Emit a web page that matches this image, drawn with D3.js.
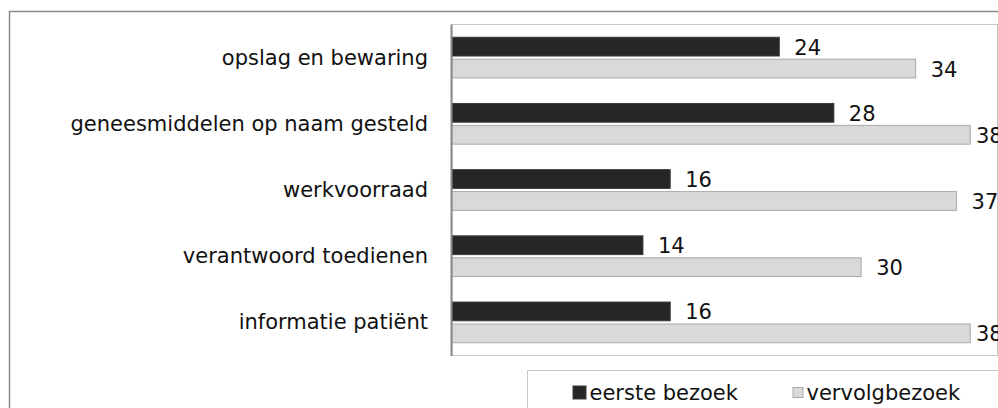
<!DOCTYPE html>
<html lang="nl">

<head>
    <meta charset="UTF-8">
    <title>Bezoeken</title>
    <script src="https://cdn.jsdelivr.net/npm/d3@7"></script>
    <style>
        body {
            margin: 0;
            background: #fff;
        }

        svg text {
            font-family: "DejaVu Sans", Verdana, sans-serif;
            font-size: 21px;
            fill: #111;
        }
    </style>
</head>

<body>
    <svg id="chart" width="998" height="408"></svg>

    <script>
        // data
        let categories = ["opslag en bewaring", "geneesmiddelen op naam gesteld", "werkvoorraad",
            "verantwoord toedienen", "informatie patiënt"];
        let seriesNames = ["eerste bezoek", "vervolgbezoek"];
        let eersteBezoek = [24, 28, 16, 14, 16];
        let vervolgBezoek = [34, 38, 37, 30, 38];
        let colors = ["#262626", "#d9d9d9"];
        let strokes = ["#3a3a3a", "#a9a9a9"];

        let svg = d3.select("#chart");

        // outer frame (runs off the right and bottom edge)
        svg.append("rect")
            .attr("x", 9.5).attr("y", 11.5)
            .attr("width", 1100).attr("height", 500)
            .attr("fill", "#fff")
            .attr("stroke", "#8c8c8c")
            .attr("stroke-width", 1.5);

        let plot = { left: 452, right: 997.5, top: 24.5, bottom: 355.5 };

        let x = d3.scaleLinear().domain([0, 40]).range([plot.left, plot.right]);
        let y = d3.scaleBand().domain(categories)
            .range([plot.top, plot.bottom])
            .paddingInner(0.37).paddingOuter(0.185);
        let ySub = d3.scaleBand().domain(seriesNames)
            .range([0, y.bandwidth()])
            .paddingInner(0.1);

        // plot area border
        svg.append("rect")
            .attr("x", plot.left).attr("y", plot.top)
            .attr("width", plot.right - plot.left)
            .attr("height", plot.bottom - plot.top)
            .attr("fill", "none")
            .attr("stroke", "#c8c8c8");

        let rows = categories.map((c, i) => ({ cat: c, values: [eersteBezoek[i], vervolgBezoek[i]] }));

        let groups = svg.selectAll("g.row")
            .data(rows)
            .join("g")
            .attr("class", "row")
            .attr("transform", d => `translate(0,${y(d.cat)})`);

        let bars = groups.selectAll("g.bar")
            .data(d => d.values.map((v, j) => ({ v: v, s: seriesNames[j], j: j })))
            .join("g")
            .attr("class", "bar");

        bars.append("rect")
            .attr("x", x(0))
            .attr("y", d => ySub(d.s) + 0.5)
            .attr("width", d => x(d.v) - x(0))
            .attr("height", ySub.bandwidth() - 1)
            .attr("fill", d => colors[d.j])
            .attr("stroke", d => strokes[d.j])
            .attr("stroke-width", 1);

        // value labels; like the original, labels that would run off are pushed back in
        let labelMaxX = 976;
        bars.append("text")
            .attr("x", d => Math.min(x(d.v) + 15, labelMaxX))
            .attr("y", d => ySub(d.s) + ySub.bandwidth() / 2 + 1)
            .attr("dominant-baseline", "central")
            .text(d => d.v);

        // category labels
        svg.selectAll("text.cat")
            .data(categories)
            .join("text")
            .attr("class", "cat")
            .attr("x", 428)
            .attr("y", d => y(d) + y.bandwidth() / 2)
            .attr("text-anchor", "end")
            .attr("dominant-baseline", "central")
            .text(d => d);

        // vertical axis line
        svg.append("line")
            .attr("x1", plot.left - 0.5).attr("x2", plot.left - 0.5)
            .attr("y1", plot.top).attr("y2", plot.bottom + 0.5)
            .attr("stroke", "#888")
            .attr("stroke-width", 2);

        // legend
        svg.append("rect")
            .attr("x", 527.5).attr("y", 370.5)
            .attr("width", 600).attr("height", 100)
            .attr("fill", "#fff")
            .attr("stroke", "#c8c8c8");

        let legendX = [572.5, 792.5];
        let legendSize = [14, 11];
        let legend = svg.selectAll("g.legend")
            .data(seriesNames)
            .join("g")
            .attr("class", "legend");

        legend.append("rect")
            .attr("x", (d, i) => legendX[i] + 0.5)
            .attr("y", (d, i) => 393 - legendSize[i] / 2)
            .attr("width", (d, i) => legendSize[i] - 1)
            .attr("height", (d, i) => legendSize[i] - 1)
            .attr("fill", (d, i) => colors[i])
            .attr("stroke", (d, i) => strokes[i]);

        legend.append("text")
            .attr("x", (d, i) => legendX[i] + legendSize[i] + 3)
            .attr("y", 399.5)
            .text(d => d);
    </script>
</body>

</html>
